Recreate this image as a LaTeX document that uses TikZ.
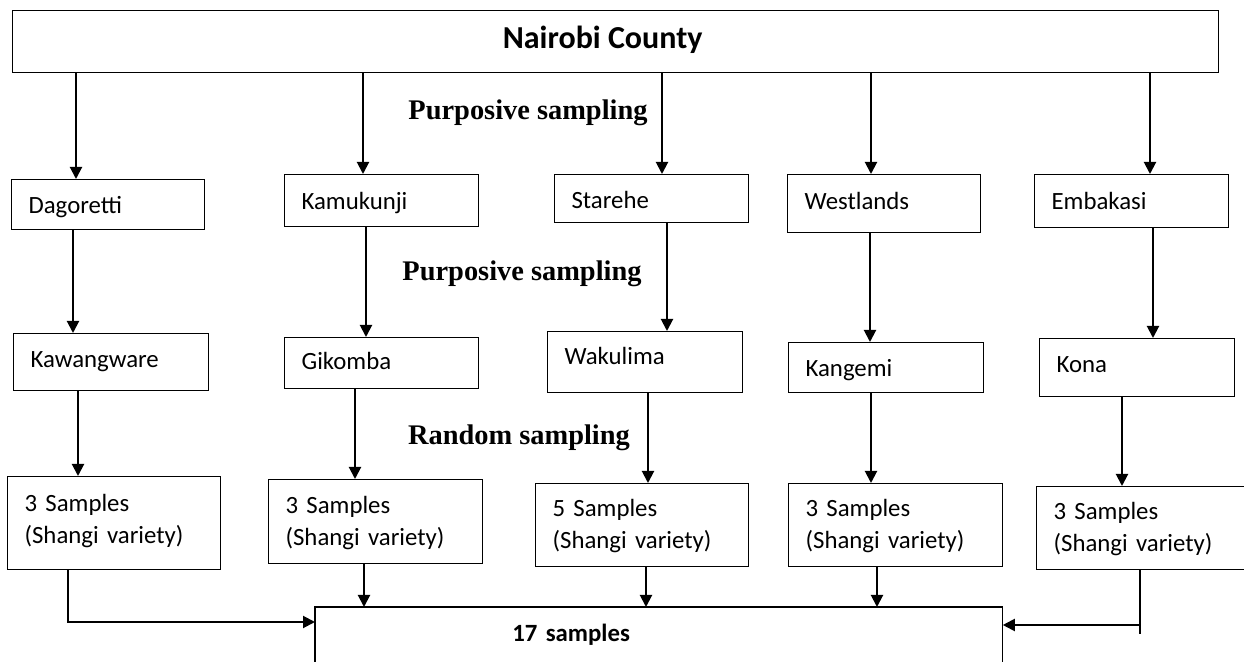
\documentclass[tikz,border=0pt]{standalone}
\usepackage{fontspec}
\setmainfont{Liberation Serif}
\newfontfamily\calfont{Carlito}
\usetikzlibrary{arrows.meta}
\tikzset{
  cell/.style={draw, line width=0.6pt, anchor=north west, inner xsep=8.5pt, inner ysep=0pt,
    align=left, font=\calfont\fontsize{12.4}{16}\selectfont, text height=11pt, text depth=#1},
  cell/.default=2pt,
  arr/.style={line width=1pt, -{Triangle[length=6pt,width=6pt]}},
  plain/.style={line width=1pt},
  lab/.style={font=\bfseries\fontsize{14.2}{16}\selectfont, anchor=base, inner sep=0pt}
}
\begin{document}
\begin{tikzpicture}[x=0.5pt,y=-0.5pt]
\useasboundingbox[fill=white] (0,0) rectangle (1244,662);
% top
\node[draw, line width=0.6pt, anchor=north west, minimum width=603pt, minimum height=31pt, inner sep=0pt,
  font=\calfont\bfseries\fontsize{16}{18}\selectfont, text height=11pt, text depth=4pt] (top) at (12,10) {\kern-13pt Nairobi County};
% row 1
\node[cell=2pt, minimum width=96.5pt, minimum height=25pt, text width=79.5pt] (D) at (11,179) {Dagoretti};
\node[cell=2pt, minimum width=97pt, minimum height=26pt, text width=80pt] (Ka) at (284,174) {Kamukunji};
\node[cell=1pt, minimum width=97pt, minimum height=24pt, text width=80pt] (St) at (554,174) {Starehe};
\node[cell=5pt, minimum width=96.5pt, minimum height=29pt, text width=79.5pt] (W) at (787,174) {Westlands};
\node[cell=2.5pt, minimum width=97pt, minimum height=26.5pt, text width=80pt] (E) at (1034,174) {Embakasi};
% row 2
\node[cell=5.5pt, minimum width=97.5pt, minimum height=28.5pt, text width=80.5pt] (Kw) at (13,333) {Kawangware};
\node[cell=4.5pt, minimum width=97pt, minimum height=25.5pt, text width=80pt] (G) at (284,337) {Gikomba};
\node[cell=8.5pt, minimum width=97.5pt, minimum height=30.5pt, text width=80.5pt] (Wk) at (547,331) {Wakulima};
\node[cell=2pt, minimum width=97.5pt, minimum height=25pt, text width=80.5pt] (Kg) at (788,342) {Kangemi};
\node[cell=6pt, minimum width=97.5pt, minimum height=29pt, text width=80.5pt] (Ko) at (1039,338) {Kona};
% row 3
\node[cell=22.5pt, minimum width=106.5pt, minimum height=46.5pt, text width=89.5pt] (S1) at (7,476) {3 Samples\\(Shangi variety)};
\node[cell=19pt, minimum width=107pt, minimum height=42pt, text width=90pt] (S2) at (268,479) {3 Samples\\(Shangi variety)};
\node[cell=19.5pt, minimum width=106.5pt, minimum height=41.5pt, text width=89.5pt] (S3) at (535,483) {5 Samples\\(Shangi variety)};
\node[cell=19.5pt, minimum width=107pt, minimum height=41.5pt, text width=90pt] (S4) at (788,483) {3 Samples\\(Shangi variety)};
\node[cell=19.5pt, minimum width=112pt, minimum height=41.5pt, text width=95pt] (S5) at (1036,486) {3 Samples\\(Shangi variety)};
% total
\node[anchor=north west, minimum width=343.5pt, minimum height=28pt, inner xsep=98.5pt, inner ysep=0pt,
  text width=146.5pt, align=left, font=\calfont\bfseries\fontsize{12.4}{15}\selectfont,
  text height=11pt, text depth=5pt] (T) at (315,607) {17 samples};
\draw[line width=0.6pt] (T.south west) -- (T.north west) -- (T.north east) -- (T.south east);
% labels
\node[lab] (L1) at (528,120) {Purposive sampling};
\node[lab] (L2) at (522,281) {Purposive sampling};
\node[lab] (L3) at (519,445) {Random sampling};
% arrows top -> row1
\draw[arr] (top.south -| 76,0) -- (D.north -| 76,0);
\draw[arr] (top.south -| 363,0) -- (Ka.north -| 363,0);
\draw[arr] (top.south -| 662,0) -- (St.north -| 662,0);
\draw[arr] (top.south -| 871,0) -- (W.north -| 871,0);
\draw[arr] (top.south -| 1150,0) -- (E.north -| 1150,0);
% row1 -> row2
\draw[arr] (D.south -| 73,0) -- (Kw.north -| 73,0);
\draw[arr] (Ka.south -| 366,0) -- (G.north -| 366,0);
\draw[arr] (St.south -| 667,0) -- (Wk.north -| 667,0);
\draw[arr] (W.south -| 870,0) -- (Kg.north -| 870,0);
\draw[arr] (E.south -| 1153,0) -- (Ko.north -| 1153,0);
% row2 -> row3
\draw[arr] (Kw.south -| 78,0) -- (S1.north -| 78,0);
\draw[arr] (G.south -| 355,0) -- (S2.north -| 355,0);
\draw[arr] (Wk.south -| 648,0) -- (S3.north -| 648,0);
\draw[arr] (Kg.south -| 871,0) -- (S4.north -| 871,0);
\draw[arr] (Ko.south -| 1122,0) -- (S5.north -| 1122,0);
% row3 -> total
\draw[arr] (S1.south -| 68,0) -- (68,622) -- (T.west |- 0,622);
\draw[arr] (S2.south -| 364,0) -- (T.north -| 364,0);
\draw[arr] (S3.south -| 646,0) -- (T.north -| 646,0);
\draw[arr] (S4.south -| 877,0) -- (T.north -| 877,0);
\coordinate (j5) at (1140,625);
\draw[plain] (S5.south -| 1140,0) -- (1140,634);
\draw[arr] (j5) -- (T.east |- j5);
\end{tikzpicture}
\end{document}
